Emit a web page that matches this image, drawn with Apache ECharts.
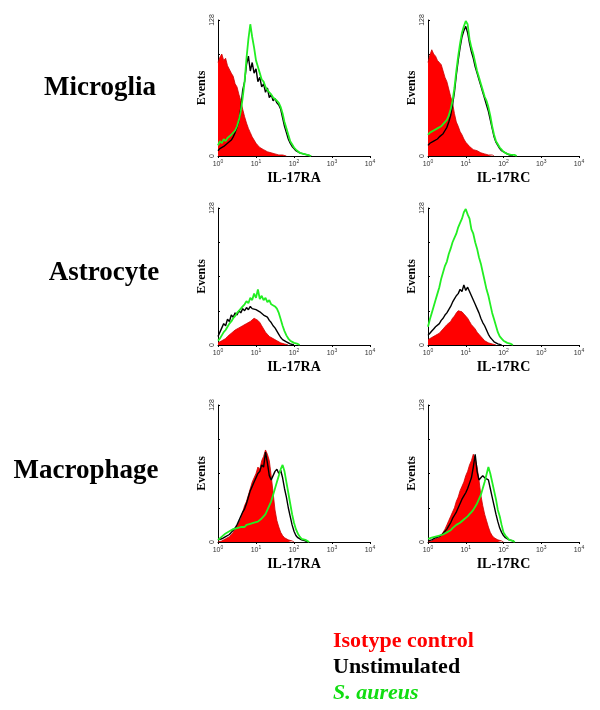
<!DOCTYPE html>
<html>
<head>
<meta charset="utf-8">
<script src="https://cdn.jsdelivr.net/npm/echarts@6/dist/echarts.min.js"></script>
<style>html,body{margin:0;padding:0;background:#fff}#c{width:600px;height:710px}</style>
</head>
<body>
<div id="c"></div>
<script>
// Shared channel grid (log10 fluorescence, decades)
const X_LOG = [0,0.05,0.1,0.15,0.2,0.25,0.3,0.35,0.4,0.45,0.5,0.55,0.6,0.65,0.7,0.75,0.8,0.85,0.9,0.95,1,1.05,1.1,1.15,1.2,1.25,1.3,1.35,1.4,1.45,1.5,1.55,1.6,1.65,1.7,1.75,1.8,1.85,1.9,1.95,2,2.05,2.1,2.15,2.2,2.25,2.3,2.35,2.4,2.45,2.5];
const X_TICKS = [0,1,2,3,4];
const Y_MAX = 128;
const ROWS = ['Microglia','Astrocyte','Macrophage'];
const MARKERS = ['IL-17RA','IL-17RC'];
const LEGEND = ['Isotype control','Unstimulated','S. aureus'];

// Microglia IL-17RA
const MIC_RA_ISO = [88,93,96,90,92,85,84,78,75,68,65,58,52,44,37,31,26,22,18,15,12,10,8,7,6,5,4,4,3,3,2,2,1,1,1,1,0];
const MIC_RA_UNS = [5,7,6,9,8,12,11,15,18,22,27,33,45,62,70,86,94,80,88,78,82,70,74,65,68,60,64,55,58,52,54,50,48,44,36,28,22,16,12,9,7,5,4,3,2,2,1,1,1,0];
const MIC_RA_SA  = [10,14,12,16,14,17,16,20,19,24,28,34,42,55,70,92,110,124,112,102,90,84,78,72,70,65,62,60,58,55,54,52,50,46,40,32,26,20,14,11,8,6,5,3,3,2,1,1,1,0];
// Microglia IL-17RC
const MIC_RC_ISO = [88,95,100,96,94,90,91,86,80,74,70,63,56,50,40,32,28,23,20,16,13,11,9,8,6,5,5,4,3,3,2,2,1,1,1,0];
const MIC_RC_UNS = [10,12,13,14,15,16,18,19,21,24,27,32,38,48,60,76,90,102,112,118,122,116,106,98,92,84,78,72,66,60,54,48,42,34,26,18,13,10,7,5,4,3,2,1,1,0];
const MIC_RC_SA  = [20,22,21,24,23,26,25,28,30,31,34,38,44,52,64,80,94,106,116,122,127,124,110,102,96,88,80,74,68,62,56,52,46,38,28,20,14,11,8,6,4,3,2,2,1,1,1,0];
// Astrocyte IL-17RA
const AST_RA_ISO = [2,3,4,5,6,8,9,11,12,14,15,16,17,18,19,20,21,22,23,25,24,23,21,18,15,12,10,8,7,6,5,4,3,2,2,1,1,0];
const AST_RA_UNS = [8,12,16,20,18,24,22,28,26,30,28,32,30,34,32,35,33,36,34,35,33,34,31,30,28,27,26,23,21,18,16,13,10,7,5,4,3,2,1,1,0];
const AST_RA_SA  = [4,6,9,12,14,17,20,22,25,27,30,32,34,36,38,41,39,44,42,48,44,52,43,46,42,44,40,42,38,37,36,34,30,24,18,13,9,6,4,3,2,1,1,0];
// Astrocyte IL-17RC
const AST_RC_ISO = [5,6,7,8,9,10,11,13,15,17,19,20,22,25,27,30,32,33,31,29,27,25,22,19,17,15,12,10,8,6,4,3,2,2,1,1,0];
const AST_RC_UNS = [9,11,13,15,17,18,20,23,25,28,30,33,36,40,43,46,48,52,50,56,51,54,50,46,42,38,34,30,25,21,18,14,10,7,5,3,2,1,1,0];
const AST_RC_SA  = [17,24,30,36,42,48,54,62,68,74,78,85,90,96,100,104,110,114,118,124,127,122,118,108,104,96,90,82,76,68,60,52,46,38,30,24,18,12,8,6,4,3,2,1,1,0];
// Macrophage IL-17RA
const MAC_RA_ISO = [0,1,1,2,3,4,5,7,9,12,15,18,22,28,34,38,44,50,56,60,64,70,68,76,80,86,82,76,62,46,30,20,14,9,6,4,3,2,1,1,0];
const MAC_RA_UNS = [2,3,3,4,5,6,7,9,11,13,16,20,24,28,31,36,42,48,52,56,60,64,66,72,70,84,74,62,58,62,66,68,64,67,60,50,42,32,24,16,10,6,4,3,2,1,1,0];
const MAC_RA_SA  = [2,3,5,6,8,9,10,11,12,12,13,14,14,15,14,16,15,17,16,18,17,19,20,22,24,26,30,34,38,44,50,56,62,68,72,66,56,46,36,26,18,12,8,5,3,2,2,1,0];
// Macrophage IL-17RC
const MAC_RC_ISO = [0,1,1,2,3,3,4,6,9,12,16,20,24,28,32,38,42,48,52,56,62,66,72,76,82,78,70,58,44,34,26,20,14,9,6,4,3,2,1,1,0];
const MAC_RC_UNS = [1,2,2,3,4,5,5,6,8,10,12,15,18,22,25,28,32,36,40,43,46,50,55,60,70,82,66,58,60,62,60,61,58,50,42,34,26,19,13,9,6,4,3,2,1,1,0];
const MAC_RC_SA  = [3,3,4,4,5,5,6,6,7,8,9,10,11,13,14,16,17,18,19,21,22,24,26,28,30,33,36,40,44,50,56,63,70,64,56,48,40,30,24,16,9,6,4,2,2,1,0];

const PANELS = [
  [MIC_RA_ISO, MIC_RA_UNS, MIC_RA_SA, 0, 0],
  [MIC_RC_ISO, MIC_RC_UNS, MIC_RC_SA, 0, 1],
  [AST_RA_ISO, AST_RA_UNS, AST_RA_SA, 1, 0],
  [AST_RC_ISO, AST_RC_UNS, AST_RC_SA, 1, 1],
  [MAC_RA_ISO, MAC_RA_UNS, MAC_RA_SA, 2, 0],
  [MAC_RC_ISO, MAC_RC_UNS, MAC_RC_SA, 2, 1]
];

const RED = '#ff0000', BLACK = '#000000', GREEN = '#22ee22', GREEN_TXT = '#11dd11';
const SERIF = '"Liberation Serif","Times New Roman",serif';
const rowTop = [20, 208, 405];
const rowH = [136, 137, 137];
const colLeft = [218, 428];
const colW = [152, 151];

const pairs = arr => arr.map((v, i) => [X_LOG[i], v]);

const grid = [], xAxis = [], yAxis = [], series = [];
PANELS.forEach((p, k) => {
  const [iso, uns, sa, r, c] = p;
  grid.push({left: colLeft[c], top: rowTop[r], width: colW[c], height: rowH[r], containLabel: false});
  xAxis.push({
    gridIndex: k, type: 'value', min: 0, max: 4, interval: 1,
    name: MARKERS[c], nameLocation: 'middle', nameGap: 15,
    nameTextStyle: {fontFamily: SERIF, fontWeight: 'bold', fontSize: 14, color: '#000'},
    axisLine: {show: true, onZero: false, lineStyle: {color: '#000', width: 1}},
    axisTick: {show: true, length: 2, lineStyle: {color: '#000'}},
    splitLine: {show: false},
    axisLabel: {
      margin: 3, color: '#333', fontSize: 7, fontFamily: 'Liberation Sans',
      formatter: v => '10{s|' + v + '}',
      rich: {s: {fontSize: 5, padding: [0, 0, 5, 0], color: '#333'}}
    }
  });
  yAxis.push({
    gridIndex: k, type: 'value', min: 0, max: Y_MAX, interval: 32,
    name: 'Events', nameLocation: 'middle', nameGap: 9, nameRotate: 90,
    nameTextStyle: {fontFamily: SERIF, fontWeight: 'bold', fontSize: 12, color: '#000'},
    axisLine: {show: true, lineStyle: {color: '#000', width: 1}},
    axisTick: {show: true, inside: true, length: 2, lineStyle: {color: '#000'}},
    splitLine: {show: false},
    axisLabel: {
      margin: 2, rotate: 90, color: '#333', fontSize: 7, fontFamily: 'Liberation Sans',
      formatter: v => (v === 0 || v === Y_MAX) ? String(v) : ''
    }
  });
  series.push({
    type: 'line', xAxisIndex: k, yAxisIndex: k, data: pairs(iso), symbol: 'none', z: 2,
    lineStyle: {color: '#cc0000', width: 0.8}, areaStyle: {color: RED, opacity: 1}, silent: true, animation: false
  });
  series.push({
    type: 'line', xAxisIndex: k, yAxisIndex: k, data: pairs(uns), symbol: 'none', z: 3,
    lineStyle: {color: BLACK, width: 1.4}, silent: true, animation: false
  });
  series.push({
    type: 'line', xAxisIndex: k, yAxisIndex: k, data: pairs(sa), symbol: 'none', z: 4,
    lineStyle: {color: GREEN, width: 1.8}, silent: true, animation: false
  });
});

const rowY = [88, 273, 471];
const rowX = [100, 104, 86];
const graphic = ROWS.map((t, i) => ({
  type: 'text', x: rowX[i], y: rowY[i],
  style: {text: t, font: 'bold 27px ' + SERIF, fill: '#000', textAlign: 'center', textVerticalAlign: 'middle'}
}));
const legColors = [RED, BLACK, GREEN_TXT];
const legFont = ['bold 22px ', 'bold 22px ', 'italic bold 22px '];
LEGEND.forEach((t, i) => {
  graphic.push({
    type: 'text', x: 333, y: 641 + i * 26,
    style: {text: t, font: legFont[i] + SERIF, fill: legColors[i], textAlign: 'left', textVerticalAlign: 'middle'}
  });
});

const chart = echarts.init(document.getElementById('c'), null, {renderer: 'canvas'});
chart.setOption({animation: false, backgroundColor: '#fff', grid, xAxis, yAxis, series, graphic});
</script>
</body>
</html>
